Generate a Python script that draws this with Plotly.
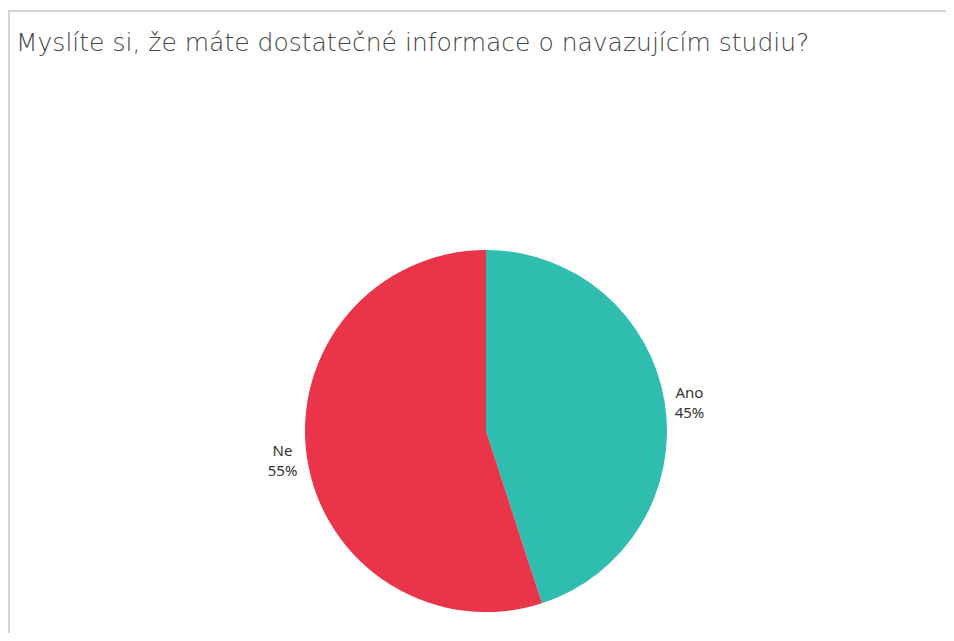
import plotly.graph_objects as go

labels = ["Ano", "Ne"]
values = [45, 55]
colors = ["#2ebdae", "#e9344a"]
title = "Myslíte si, že máte dostatečné informace o navazujícím studiu?"

# page body has an 8px default margin on every side
OFF = 8
W, H = 954 - OFF, 641 - 2 * OFF


def px_x(x):
    return (x - OFF) / W


def px_y(y):
    return 1 - (y - OFF) / H


fig = go.Figure(go.Pie(
    labels=labels,
    values=values,
    marker=dict(colors=colors, line=dict(width=0)),
    sort=False,
    direction="clockwise",
    rotation=0,
    textposition="outside",
    texttemplate="%{label}<br>%{percent:.0%}",
    textfont=dict(family="Noto Sans", size=15, color="#333333"),
    showlegend=False,
    hoverinfo="label+percent",
    domain=dict(x=[px_x(305), px_x(667)], y=[px_y(612), px_y(250)]),
))

fig.update_layout(
    width=W, height=H,
    margin=dict(l=0, r=0, t=0, b=0),
    paper_bgcolor="white",
    plot_bgcolor="white",
    title=dict(
        text=title,
        x=px_x(16), xanchor="left",
        y=px_y(42), yanchor="middle",
        font=dict(family="DejaVu Sans", size=25, color="#444444", weight=200),
    ),
    shapes=[
        dict(type="line", xref="paper", yref="paper",
             x0=px_x(8), x1=1, y0=px_y(11), y1=px_y(11),
             line=dict(color="#d4d4d4", width=2)),
        dict(type="line", xref="paper", yref="paper",
             x0=px_x(9), x1=px_x(9), y0=0, y1=px_y(10),
             line=dict(color="#d4d4d4", width=2)),
    ],
)

fig.write_html("out.html")
